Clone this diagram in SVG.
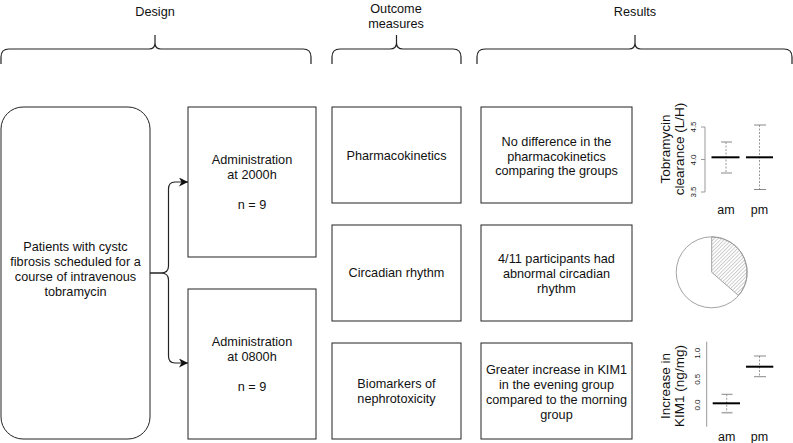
<svg xmlns="http://www.w3.org/2000/svg" width="793" height="443" viewBox="0 0 793 443">
<style>
text{font-family:"Liberation Sans",Arial,sans-serif;fill:#111;}
.t{font-size:12.7px;text-anchor:middle;}
.box{fill:#fff;stroke:#222;stroke-width:1;}
.brace{fill:none;stroke:#222;stroke-width:1.2;}
.ax{fill:none;stroke:#999;stroke-width:1;}
.wh{fill:none;stroke:#999;stroke-width:1;stroke-dasharray:2,1.5;}
.cap{fill:none;stroke:#888;stroke-width:1;}
.med{fill:none;stroke:#000;stroke-width:2;}
.tk{font-size:8px;text-anchor:middle;fill:#222;}
.al{font-size:13.5px;text-anchor:middle;}
.xl{font-size:12.5px;text-anchor:middle;}
</style>
<defs>
<marker id="arr" markerUnits="userSpaceOnUse" markerWidth="10" markerHeight="9" refX="9" refY="4.5" orient="auto">
<path d="M0,0 L9,4.5 L0,9 L2.5,4.5 Z" fill="#111"/>
</marker>
<pattern id="hatch" patternUnits="userSpaceOnUse" width="2.6" height="2.6" patternTransform="rotate(45)">
<line x1="0" y1="0" x2="0" y2="2.6" stroke="#888" stroke-width="0.8"/>
</pattern>
</defs>

<g id="headers">
<text class="t" x="155" y="16">Design</text>
<text class="t" x="396" y="13">Outcome</text>
<text class="t" x="396" y="28">measures</text>
<text class="t" x="635" y="16">Results</text>
<path class="brace" d="M1,64 V57 Q1,49 9,49 H149 Q155,49 155,43 V35 M155,43 Q155,49 161,49 H303 Q311,49 311,57 V64"/>
<path class="brace" d="M332,64 V57 Q332,49 340,49 H390 Q396.5,49 396.5,43 V35 M396.5,43 Q396.5,49 403,49 H453 Q461,49 461,57 V64"/>
<path class="brace" d="M477,64 V57 Q477,49 485,49 H629 Q635,49 635,43 V35 M635,43 Q635,49 641,49 H784 Q792,49 792,57 V64"/>
</g>

<g id="patients">
<rect class="box" x="1" y="107" width="149" height="332" rx="22" ry="22"/>
<text class="t" x="75.5" y="251">Patients with cystc</text>
<text class="t" x="75.5" y="266">fibrosis scheduled for a</text>
<text class="t" x="75.5" y="281">course of intravenous</text>
<text class="t" x="75.5" y="296">tobramycin</text>
</g>

<g id="admin2000">
<rect class="box" x="188" y="107" width="128" height="150"/>
<text class="t" x="252" y="164">Administration</text>
<text class="t" x="252" y="179">at 2000h</text>
<text class="t" x="252" y="209">n = 9</text>
</g>

<g id="admin0800">
<rect class="box" x="188" y="289" width="128" height="150"/>
<text class="t" x="252" y="346">Administration</text>
<text class="t" x="252" y="361">at 0800h</text>
<text class="t" x="252" y="391">n = 9</text>
</g>

<g id="pk">
<rect class="box" x="332" y="107" width="129" height="96"/>
<text class="t" x="396.5" y="159.5">Pharmacokinetics</text>
</g>
<g id="circ">
<rect class="box" x="332" y="225" width="129" height="96"/>
<text class="t" x="396.5" y="277">Circadian rhythm</text>
</g>
<g id="bio">
<rect class="box" x="332" y="343" width="129" height="96"/>
<text class="t" x="396.5" y="387.5">Biomarkers of</text>
<text class="t" x="396.5" y="402.5">nephrotoxicity</text>
</g>

<g id="res1">
<rect class="box" x="481" y="107" width="151" height="96"/>
<text class="t" x="556.5" y="146">No difference in the</text>
<text class="t" x="556.5" y="160.5">pharmacokinetics</text>
<text class="t" x="556.5" y="175">comparing the groups</text>
</g>
<g id="res2">
<rect class="box" x="481" y="225" width="151" height="96"/>
<text class="t" x="556.5" y="263">4/11 participants had</text>
<text class="t" x="556.5" y="278">abnormal circadian</text>
<text class="t" x="556.5" y="293">rhythm</text>
</g>
<g id="res3">
<rect class="box" x="481" y="343" width="151" height="96"/>
<text class="t" x="556.5" y="374">Greater increase in KIM1</text>
<text class="t" x="556.5" y="389">in the evening group</text>
<text class="t" x="556.5" y="404">compared to the morning</text>
<text class="t" x="556.5" y="419">group</text>
</g>

<g id="connectors">
<path class="brace" d="M150,273 H161 Q168.5,273 168.5,266 V189 Q168.5,182 175,182 H188" marker-end="url(#arr)"/>
<path class="brace" d="M150,273 H161 Q168.5,273 168.5,280 V356 Q168.5,363 175,363 H188" marker-end="url(#arr)"/>
</g>

<g id="chart-clearance">
<text class="al" transform="translate(670,149) rotate(-90)">Tobramycin</text>
<text class="al" transform="translate(683.5,149) rotate(-90)">clearance (L/H)</text>
<path class="ax" d="M701,127 H705 V192 H701 M701,159.5 H705"/>
<text class="tk" transform="translate(696,127) rotate(-90)">4.5</text>
<text class="tk" transform="translate(696,160) rotate(-90)">4.0</text>
<text class="tk" transform="translate(696,192) rotate(-90)">3.5</text>
<line class="wh" x1="726" y1="142" x2="726" y2="173"/>
<path class="cap" d="M721,142 H732 M721,173 H732"/>
<line class="med" x1="711.5" y1="157.3" x2="739.5" y2="157.3"/>
<line class="wh" x1="759.5" y1="125" x2="759.5" y2="189.5"/>
<path class="cap" d="M754,125 H766 M754,189.5 H766"/>
<line class="med" x1="746" y1="157.3" x2="773" y2="157.3"/>
<text class="xl" x="726" y="214">am</text>
<text class="xl" x="759.5" y="214">pm</text>
</g>

<g id="chart-pie">
<circle cx="711.7" cy="272.3" r="35.5" fill="#fff" stroke="#999" stroke-width="0.9"/>
<path d="M711.7,272.3 L711.7,236.8 A35.5,35.5 0 0 1 738.5,295.55 Z" fill="url(#hatch)" stroke="#999" stroke-width="0.9"/>
</g>

<g id="chart-kim1">
<text class="al" transform="translate(670,386) rotate(-90)">Increase in</text>
<text class="al" transform="translate(683.5,386) rotate(-90)">KIM1 (ng/mg)</text>
<line class="ax" x1="706.7" y1="341.7" x2="706.7" y2="426.7"/>
<text class="tk" transform="translate(699.5,353.3) rotate(-90)">1.0</text>
<text class="tk" transform="translate(699.5,379.3) rotate(-90)">0.5</text>
<text class="tk" transform="translate(699.5,405) rotate(-90)">0.0</text>
<line class="wh" x1="726.7" y1="394.3" x2="726.7" y2="412.7"/>
<path class="cap" d="M721.5,394.3 H732.5"/>
<path d="M721.5,412.7 H732.5" fill="none" stroke="#aaa" stroke-width="1.6"/>
<line class="med" x1="712.7" y1="403.3" x2="740" y2="403.3"/>
<line class="wh" x1="759.5" y1="356" x2="759.5" y2="376.7"/>
<path class="cap" d="M754,356 H766 M754,376.7 H766"/>
<line class="med" x1="746" y1="366.7" x2="773.3" y2="366.7"/>
<text class="xl" x="726.7" y="441">am</text>
<text class="xl" x="759.5" y="441">pm</text>
</g>
</svg>
